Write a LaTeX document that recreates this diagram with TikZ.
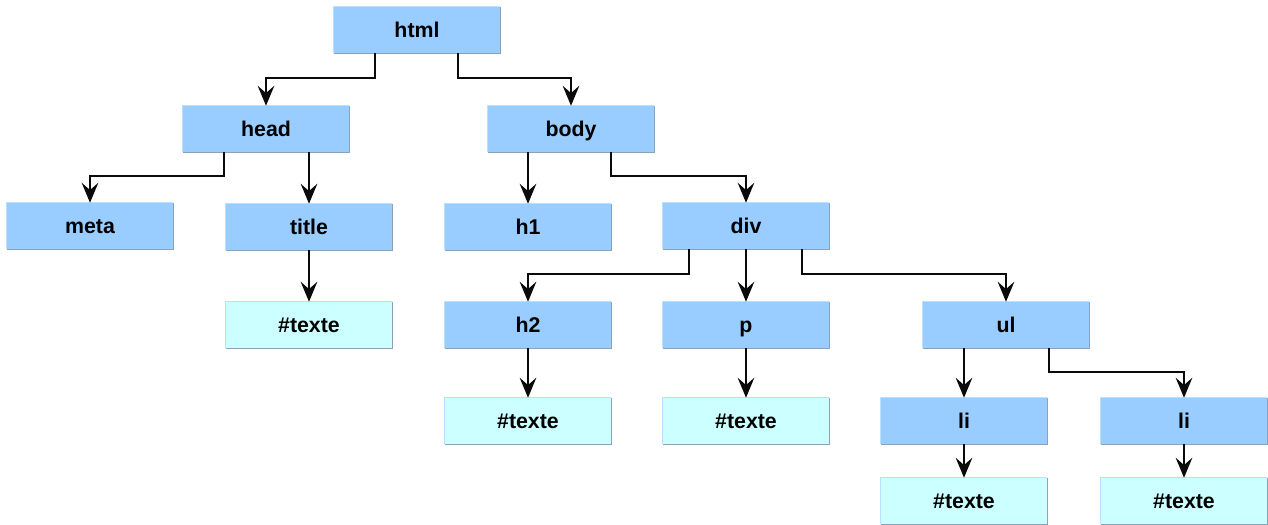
\documentclass[tikz,border=0pt]{standalone}
\usepackage{fontspec}
\setmainfont{Liberation Sans}
\usetikzlibrary{arrows.meta}
\definecolor{tagblue}{HTML}{99CCFF}
\definecolor{textcyan}{HTML}{CCFFFF}
\definecolor{rimdark}{HTML}{8AA3BD}
\definecolor{rimlight}{HTML}{B8E0FF}
\definecolor{wire}{HTML}{0A0A0A}

\begin{document}
\begin{tikzpicture}[x=0.75pt,y=0.75pt,yscale=-1,xscale=1,
  tag/.style={fill=tagblue, minimum width=124.5pt, minimum height=34.5pt, inner sep=0pt, text height=11.5pt, text depth=0pt, font=\fontsize{16}{18}\selectfont\bfseries},
  txt/.style={tag, fill=textcyan},
  link/.style={draw=wire, line width=1.2pt, -{Stealth[length=15pt,width=12.5pt,inset=5.5pt]}}]
\useasboundingbox (0,0) rectangle (1268,525);

% Element Nodes
\node[tag] (html) at (417,30) {html};
\node[tag] (head) at (266,129) {head};
\node[tag] (body) at (571,129) {body};
\node[tag] (meta) at (90,226) {meta};
\node[tag] (title) at (309,227) {title};
\node[tag] (h1) at (528,227) {h1};
\node[tag] (div) at (746,226) {div};
\node[tag] (h2) at (528,325) {h2};
\node[tag] (p) at (746,325) {p};
\node[tag] (ul) at (1006,325) {ul};
\node[tag] (lia) at (964,421) {li};
\node[tag] (lib) at (1184,421) {li};

% Text Nodes
\node[txt] (titletxt) at (309,325) {\#texte};
\node[txt] (h2txt) at (528,421) {\#texte};
\node[txt] (ptxt) at (746,421) {\#texte};
\node[txt] (liatxt) at (964,501) {\#texte};
\node[txt] (libtxt) at (1184,501) {\#texte};

% box rims: light top/left, dark right/bottom
\foreach \n in {html,head,body,meta,title,h1,div,h2,p,ul,lia,lib,titletxt,h2txt,ptxt,liatxt,libtxt}{
  \draw[rimlight, line width=0.75pt] (\n.south west) -- (\n.north west) -- (\n.north east);
  \draw[rimdark, line width=0.9pt] (\n.north east) -- (\n.south east) -- (\n.south west);
}

% Elbow Lines
\draw[link] ([xshift=-31.5pt]html.south) -- ++(0,25) -| (head.north);
\draw[link] ([xshift=30.75pt]html.south) -- ++(0,25) -| (body.north);
\draw[link] ([xshift=-31.5pt]head.south) -- ++(0,24) -| (meta.north);
\draw[link] ([xshift=30pt]body.south) -- ++(0,24) -| (div.north);
\draw[link] ([xshift=-42.75pt]div.south) -- ++(0,25) -| (h2.north);
\draw[link] ([xshift=42pt]div.south) -- ++(0,25) -| (ul.north);
\draw[link] ([xshift=32.25pt]ul.south) -- ++(0,24) -| (lib.north);

% Straight Lines
\draw[link] (title.north |- head.south) -- (title.north);
\draw[link] (h1.north |- body.south) -- (h1.north);
\draw[link] (title) -- (titletxt);
\draw[link] (div) -- (p);
\draw[link] (h2) -- (h2txt);
\draw[link] (p) -- (ptxt);
\draw[link] (lia.north |- ul.south) -- (lia.north);
\draw[link] (lia) -- (liatxt);
\draw[link] (lib) -- (libtxt);

\end{tikzpicture}
\end{document}
